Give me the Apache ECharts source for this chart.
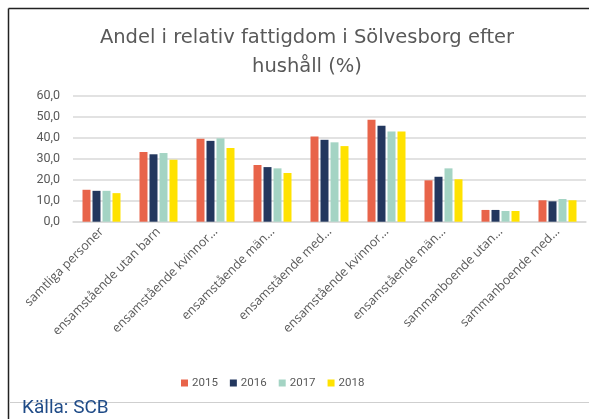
<!DOCTYPE html>
<html><head><meta charset="utf-8">
<script src="https://cdn.jsdelivr.net/npm/echarts@6/dist/echarts.min.js"></script>
<style>html,body{margin:0;padding:0;background:#fff}#c{width:589px;height:419px}</style>
</head><body><div id="c"></div>
<script>
const categories = ["samtliga personer","ensamstående utan barn","ensamstående kvinnor…","ensamstående män…","ensamstående med…","ensamstående kvinnor…","ensamstående män…","sammanboende utan…","sammanboende med…"];
const years = ["2015","2016","2017","2018"];
const v2015 = [15.2, 33.2, 39.5, 27.0, 40.6, 48.6, 19.7, 5.6, 10.2];
const v2016 = [14.7, 32.1, 38.5, 26.0, 39.0, 45.7, 21.4, 5.6, 9.7];
const v2017 = [14.7, 32.7, 39.7, 25.4, 37.8, 42.9, 25.4, 5.1, 10.8];
const v2018 = [13.6, 29.5, 35.1, 23.2, 36.0, 42.9, 20.2, 5.1, 10.2];
const yTicks = [0,10,20,30,40,50,60];
const colors = ["#E8644A","#23375E","#A4D4C4","#FFE200"];
const vals = [v2015, v2016, v2017, v2018];

const chart = echarts.init(document.getElementById('c'), null, {renderer:'canvas'});
chart.setOption({
  animation:false,
  backgroundColor:'#fff',
  title:{
    text:'Andel i relativ fattigdom i Sölvesborg efter\nhushåll (%)',
    left: 302, top: 18, textAlign:'center',
    textStyle:{fontFamily:'DejaVu Sans', fontSize:19.5, fontWeight:'normal', color:'#595959', lineHeight:29}
  },
  legend:{
    data: years, left: 176, top: 372, itemWidth:7, itemHeight:7, itemGap:12,
    icon:'rect', textStyle:{fontFamily:'Roboto', fontSize:11.5, color:'#595959', padding:[0,0,0,-1]}
  },
  grid:{left:73, right:3, top:95.7, bottom:197.3},
  xAxis:{
    type:'category', data:categories,
    axisLine:{lineStyle:{color:'#d9d9d9', width:1.5}},
    axisTick:{show:false},
    axisLabel:{rotate:45, interval:0, fontFamily:'Open Sans', fontSize:12.5, color:'#595959', margin:8}
  },
  yAxis:{
    type:'value', min:yTicks[0], max:yTicks[yTicks.length-1], interval:10,
    axisLine:{show:false}, axisTick:{show:false},
    splitLine:{lineStyle:{color:'#d9d9d9', width:1.5}},
    axisLabel:{fontFamily:'Roboto', fontSize:12.5, color:'#595959', margin:13,
      formatter: v => v.toFixed(1).replace('.', ',')}
  },
  series: years.map((y,i)=>({
    name:y, type:'bar', data:vals[i], barWidth:8, barGap:'25%',
    itemStyle:{color:colors[i]}
  })),
  graphic:[
    {type:'line', shape:{x1:8.5,y1:8.5,x2:589,y2:8.5}, style:{stroke:'#222', lineWidth:1.5}},
    {type:'line', shape:{x1:8.5,y1:8.5,x2:8.5,y2:419}, style:{stroke:'#222', lineWidth:1.5}},
    {type:'line', shape:{x1:9,y1:402.5,x2:589,y2:402.5}, style:{stroke:'#cfcfcf', lineWidth:1}},
    {type:'text', left:22, top:399, style:{text:'Källa: SCB', fontFamily:'Roboto', fontSize:19, fill:'#1F4B87'}}
  ]
});
</script></body></html>
